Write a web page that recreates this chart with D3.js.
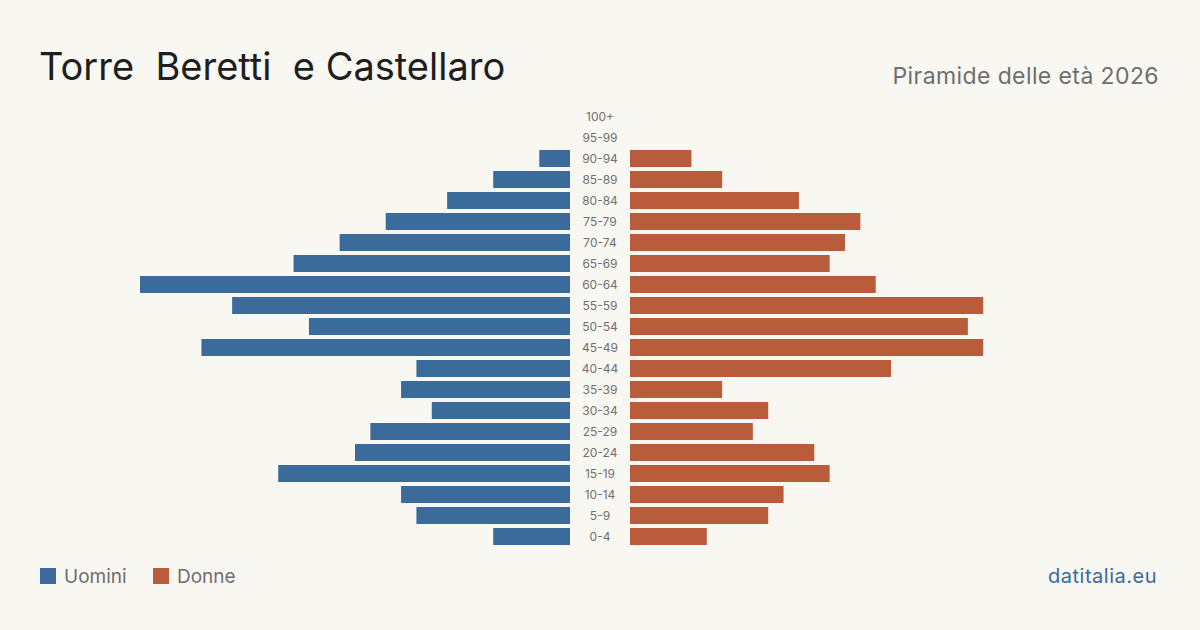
<!DOCTYPE html>
<html>
<head>
<meta charset="utf-8">
<script src="https://cdn.jsdelivr.net/npm/d3@7"></script>
<style>
  html, body { margin: 0; padding: 0; background: #f9f7f2; }
  svg { display: block; font-family: Inter, "Noto Sans", sans-serif; }
</style>
</head>
<body>
<div id="chart"></div>
<script>
// age classes, top to bottom
const ageGroups = ["100+", "95-99", "90-94", "85-89", "80-84", "75-79", "70-74", "65-69",
  "60-64", "55-59", "50-54", "45-49", "40-44", "35-39", "30-34", "25-29",
  "20-24", "15-19", "10-14", "5-9", "0-4"];
const men   = [0, 0, 2, 5, 8, 12, 15, 18, 28, 22, 17, 24, 10, 11, 9, 13, 14, 19, 11, 10, 5];
const women = [0, 0, 4, 6, 11, 15, 14, 13, 16, 23, 22, 23, 17, 6, 9, 8, 12, 13, 10, 9, 5];
const legendLabels = ["Uomini", "Donne"];

const width = 1200, height = 630;
const blue = "#3b6b9b", orange = "#b95c3c";

const svg = d3.select("#chart")
    .append("svg")
    .attr("width", width)
    .attr("height", height);

svg.append("rect").attr("width", width).attr("height", height).attr("fill", "#f9f7f2");

// title + subtitle
svg.append("text")
    .attr("x", 39).attr("y", 80)
    .attr("font-size", 38)
    .attr("fill", "#1e1e1e")
    .style("white-space", "pre")
    .text("Torre  Beretti  e Castellaro");

svg.append("text")
    .attr("x", 1159).attr("y", 84)
    .attr("text-anchor", "end")
    .attr("font-size", 23)
    .attr("letter-spacing", 0.4)
    .attr("fill", "#6e6e6e")
    .text("Piramide delle età 2026");

// scales
const y = d3.scaleBand()
    .domain(ageGroups)
    .range([106, 547])
    .paddingInner(0.19)
    .paddingOuter(0.095);

const maxVal = d3.max(men.concat(women));
const xLeft = d3.scaleLinear().domain([0, maxVal]).range([570, 140]);
const xRight = d3.scaleLinear().domain([0, maxVal]).range([630, 1060]);

// men bars
svg.selectAll("rect.men")
    .data(ageGroups)
    .enter()
    .append("rect")
    .attr("class", "men")
    .attr("x", (d, i) => xLeft(men[i]))
    .attr("y", d => y(d))
    .attr("width", (d, i) => xLeft(0) - xLeft(men[i]))
    .attr("height", y.bandwidth())
    .attr("fill", blue);

// women bars
svg.selectAll("rect.women")
    .data(ageGroups)
    .enter()
    .append("rect")
    .attr("class", "women")
    .attr("x", xRight(0))
    .attr("y", d => y(d))
    .attr("width", (d, i) => xRight(women[i]) - xRight(0))
    .attr("height", y.bandwidth())
    .attr("fill", orange);

// age labels in the middle
svg.selectAll("text.age")
    .data(ageGroups)
    .enter()
    .append("text")
    .attr("class", "age")
    .attr("x", 600)
    .attr("y", d => y(d) + y.bandwidth() / 2)
    .attr("dy", "0.36em")
    .attr("text-anchor", "middle")
    .attr("font-size", 12)
    .attr("fill", "#707070")
    .text(d => d);

// legend
const legend = svg.selectAll("g.legend")
    .data(legendLabels)
    .enter()
    .append("g")
    .attr("class", "legend")
    .attr("transform", (d, i) => "translate(" + (40 + i * 113) + ",568)");

legend.append("rect")
    .attr("width", 16).attr("height", 16)
    .attr("fill", (d, i) => i === 0 ? blue : orange);

legend.append("text")
    .attr("x", 24).attr("y", 8)
    .attr("dy", "0.36em")
    .attr("font-size", 19)
    .attr("fill", "#6e6e6e")
    .text(d => d);

svg.append("text")
    .attr("x", 1157).attr("y", 583)
    .attr("text-anchor", "end")
    .attr("font-size", 20)
    .attr("letter-spacing", 0.5)
    .attr("fill", "#3a6a9e")
    .text("datitalia.eu");
</script>
</body>
</html>
